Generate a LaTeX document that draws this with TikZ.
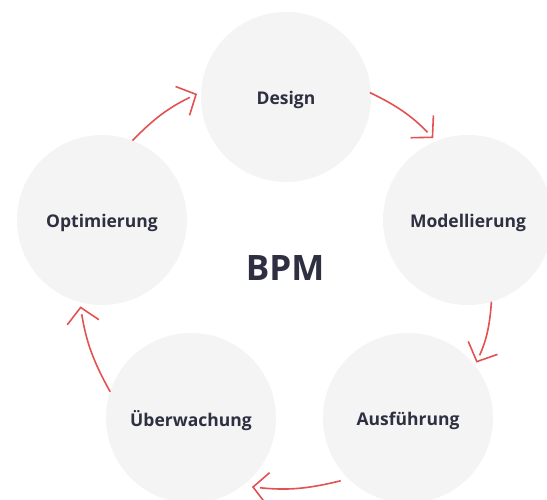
\documentclass[tikz,border=0pt]{standalone}
\usepackage{fontspec}
\setmainfont{Open Sans}
\usetikzlibrary{arrows.meta,calc,decorations.markings}
\definecolor{bubblegray}{HTML}{F4F4F4}
\definecolor{ink}{HTML}{2E3042}
\definecolor{arrowred}{HTML}{E35252}
\newcommand{\lbl}[1]{\raisebox{-2.5pt}[\height][\depth]{#1}}
\tikzset{
  bubble/.style={circle, fill=bubblegray, minimum size=170pt, inner sep=0pt, outer sep=0pt,
    text=ink, font=\fontsize{17.5}{20}\selectfont\bfseries},
  flowline/.style={draw=arrowred, line width=1.6pt, shorten >=8pt},
  flowtip/.style={decorate, decoration={markings,
    mark=at position 1 with {\arrow[arrowred, line width=1.6pt]{Straight Barb[length=15pt,width=32pt]}}}}
}
\begin{document}
\begin{tikzpicture}[x=1pt,y=1pt]
\fill[white] (0,0) rectangle (547,500);
\useasboundingbox (0,0) rectangle (547,500);
\begin{scope}
\clip (0,0) rectangle (547,500);
\node[bubble] (design) at (286,403) {\lbl{Design}};
\node[bubble] (model) at (468,280) {\lbl{Modellierung}};
\node[bubble] (ausf) at (408,82) {\lbl{Ausführung}};
\node[bubble] (ueber) at (191,82) {\lbl{Überwachung}};
\node[bubble] (opt) at (102,280) {\lbl{Optimierung}};
\end{scope}
\node[text=ink, font=\fontsize{35}{40}\selectfont\bfseries] (bpm) at (285,232) {BPM};

\coordinate (s1) at ($(opt.center)+(69:85)$);
\coordinate (t1) at ($(design.center)+(178:89)$);
\coordinate (s2) at ($(design.center)+(3:84)$);
\coordinate (t2) at ($(model.center)+(113:89)$);
\coordinate (s3) at ($(model.center)+(-74:85)$);
\coordinate (t3) at ($(ausf.center)+(39:88)$);
\coordinate (s4) at ($(ausf.center)+(223:92)$);
\coordinate (t4) at ($(ueber.center)+(-48.5:92)$);
\coordinate (s5) at ($(ueber.center)+(162:85)$);
\coordinate (t5) at ($(opt.center)+(256:89)$);

\foreach \s/\t in {s1/t1,s2/t2,s3/t3,s4/t4,s5/t5}{
  \draw[flowline] (\s) to[bend left=10] (\t);
  \path[flowtip] (\s) to[bend left=10] (\t);
}
\end{tikzpicture}
\end{document}
